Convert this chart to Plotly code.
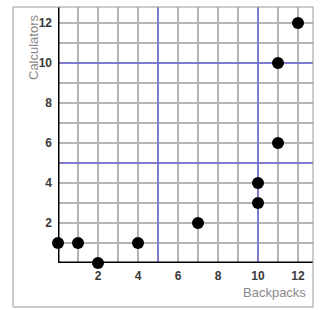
import plotly.graph_objects as go

backpacks = [0, 1, 2, 4, 7, 10, 10, 11, 11, 12]
calculators = [1, 1, 0, 1, 2, 3, 4, 6, 10, 12]
grid_vals = list(range(0, 13))
tick_labels = ["" if (v == 0 or v % 2) else str(v) for v in grid_vals]
blue_lines = [5, 10]
x_range = [0, 12.75]
y_range = [0, 12.8]

W, H = 327, 310
L, R, T, B = 58, 14, 7, 47
pw, ph = W - L - R, H - T - B

fig = go.Figure()
blue = "#6b6bd6"
for v in blue_lines:
    fig.add_trace(go.Scatter(x=[v, v], y=y_range, mode="lines",
                             line=dict(color=blue, width=1.5), hoverinfo="skip"))
    fig.add_trace(go.Scatter(x=x_range, y=[v, v], mode="lines",
                             line=dict(color=blue, width=1.5), hoverinfo="skip"))
fig.add_trace(go.Scatter(x=[0, 0], y=y_range, mode="lines",
                         line=dict(color="black", width=3), hoverinfo="skip"))
fig.add_trace(go.Scatter(x=x_range, y=[0, 0], mode="lines",
                         line=dict(color="black", width=3), hoverinfo="skip"))
fig.add_trace(go.Scatter(
    x=backpacks, y=calculators, mode="markers",
    marker=dict(size=12, color="black"), cliponaxis=False, hoverinfo="skip"))

grid_color = "#b4b4b4"
axis_common = dict(
    tickvals=grid_vals, ticktext=tick_labels, showgrid=True, gridcolor=grid_color,
    gridwidth=1.5, zeroline=False, showline=False, ticks="", fixedrange=True,
    tickfont=dict(family="Liberation Sans, Arial", size=12, color="#3a3a3a", weight="bold"),
)
fig.update_xaxes(range=x_range, ticklabelstandoff=4, **axis_common)
fig.update_yaxes(range=y_range, ticklabelstandoff=5, **axis_common)

shapes = []
fx0 = (13 - L) / pw
fy0 = -(307 - (T + ph)) / ph
shapes.append(dict(type="rect", xref="paper", yref="paper", x0=fx0, x1=1, y0=fy0, y1=1,
                   line=dict(color="#999999", width=1), layer="above"))

title_font = dict(family="Liberation Sans, Arial", size=13, color="#8a8a8a")
annotations = [
    dict(text="Backpacks", xref="paper", yref="paper", x=(308 - L) / pw, y=-(292 - (T + ph)) / ph,
         xanchor="right", yanchor="middle", showarrow=False, font=title_font),
    dict(text="Calculators", xref="paper", yref="paper", x=(33 - L) / pw, y=(T + ph - 12) / ph,
         xanchor="center", yanchor="top", textangle=-90, showarrow=False, font=title_font),
]

fig.update_layout(
    width=W, height=H, margin=dict(l=L, r=R, t=T, b=B),
    paper_bgcolor="white", plot_bgcolor="white", showlegend=False,
    shapes=shapes, annotations=annotations,
)
fig.write_html("out.html", config={"displayModeBar": False})
